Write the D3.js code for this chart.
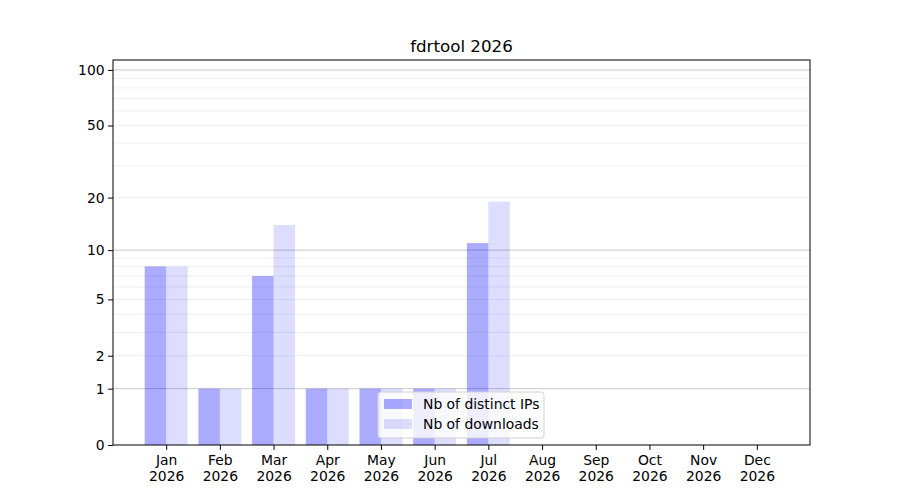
<!DOCTYPE html>
<html>
<head>
    <meta charset="utf-8">
    <style>
        body {
            margin: 0;
            background: white;
        }
        svg {
            font-family: 'DejaVu Sans', sans-serif;
        }
        .tick text {
            font-family: 'DejaVu Sans', sans-serif;
            font-size: 13.9px;
            fill: #000;
        }
        .tick line {
            stroke: #000;
        }
        .domain {
            display: none;
        }
        .title {
            font-size: 16.7px;
        }
        .legend text {
            font-size: 13.9px;
        }
    </style>
</head>
<body>
    <svg width="900" height="500"></svg>

<script src="https://cdn.jsdelivr.net/npm/d3@7"></script>
<script>
    let months = ["Jan", "Feb", "Mar", "Apr", "May", "Jun", "Jul", "Aug", "Sep", "Oct", "Nov", "Dec"]
    let year = "2026"
    let distinctIps = [8, 1, 7, 1, 1, 1, 11, 0, 0, 0, 0, 0]
    let downloads = [8, 1, 14, 1, 1, 1, 19, 0, 0, 0, 0, 0]
    let yTicks = [0, 1, 2, 5, 10, 20, 50, 100]
    let majorGrid = [1, 10, 100]
    let minorGrid = [2, 3, 4, 5, 6, 7, 8, 9, 20, 30, 40, 50, 60, 70, 80, 90]

    let margin = { top: 60, right: 90, bottom: 55, left: 113 }
    let width = 900
    let height = 500

    let svg = d3.select("svg")

    let x = d3.scaleLinear()
        .domain([-0.99, 11.99])
        .range([margin.left, width - margin.right])

    // log(1 + v) style y scale
    let y = d3.scaleSymlog()
        .constant(1)
        .domain([0, 113.2])
        .range([height - margin.bottom, margin.top])

    let barW = 0.4

    // grid
    let grid = svg.append("g")
    grid.selectAll(".minor")
        .data(minorGrid)
        .join("line")
        .attr("x1", margin.left)
        .attr("x2", width - margin.right)
        .attr("y1", d => y(d))
        .attr("y2", d => y(d))
        .attr("stroke", "#ebebeb")
        .attr("stroke-width", 0.8)
    grid.selectAll(".major")
        .data(majorGrid)
        .join("line")
        .attr("x1", margin.left)
        .attr("x2", width - margin.right)
        .attr("y1", d => y(d))
        .attr("y2", d => y(d))
        .attr("stroke", "#c8c8c8")
        .attr("stroke-width", 1)

    // bars
    svg.append("g")
        .selectAll("rect")
        .data(distinctIps)
        .join("rect")
        .attr("x", (d, i) => x(i - barW))
        .attr("width", (d, i) => x(i) - x(i - barW))
        .attr("y", d => y(d))
        .attr("height", d => y(0) - y(d))
        .attr("fill", "blue")
        .attr("fill-opacity", 0.33)

    svg.append("g")
        .selectAll("rect")
        .data(downloads)
        .join("rect")
        .attr("x", (d, i) => x(i))
        .attr("width", (d, i) => x(i + barW) - x(i))
        .attr("y", d => y(d))
        .attr("height", d => y(0) - y(d))
        .attr("fill", "blue")
        .attr("fill-opacity", 0.133)

    // axes
    let xAxis = svg.append("g")
        .attr("transform", `translate(0,${height - margin.bottom})`)
        .call(d3.axisBottom(x)
            .tickValues(d3.range(months.length))
            .tickSize(4.9)
            .tickPadding(4.5)
            .tickFormat(""))
    xAxis.selectAll(".tick text")
        .each(function (d) {
            let t = d3.select(this)
            t.append("tspan").attr("x", 0).attr("dy", "0.76em").text(months[d])
            t.append("tspan").attr("x", 0).attr("dy", "1.17em").text(year)
        })

    svg.append("g")
        .attr("transform", `translate(${margin.left},0)`)
        .call(d3.axisLeft(y)
            .tickValues(yTicks)
            .tickSize(4.9)
            .tickPadding(3.5)
            .tickFormat(d3.format("d")))

    // frame
    svg.append("rect")
        .attr("x", margin.left)
        .attr("y", margin.top)
        .attr("width", width - margin.right - margin.left)
        .attr("height", height - margin.bottom - margin.top)
        .attr("fill", "none")
        .attr("stroke", "#000")
        .attr("stroke-width", 1)

    svg.append("text")
        .attr("class", "title")
        .attr("x", (margin.left + width - margin.right) / 2)
        .attr("y", margin.top - 8)
        .attr("text-anchor", "middle")
        .text("fdrtool " + year)

    // legend
    let legendItems = [
        { label: "Nb of distinct IPs", opacity: 0.33 },
        { label: "Nb of downloads", opacity: 0.133 }
    ]
    let legend = svg.append("g")
        .attr("class", "legend")
        .attr("transform", "translate(378,392)")
    legend.append("rect")
        .attr("width", 166)
        .attr("height", 46)
        .attr("rx", 3)
        .attr("fill", "white")
        .attr("fill-opacity", 0.8)
        .attr("stroke", "#d0d0d0")
    let rows = legend.selectAll(".row")
        .data(legendItems)
        .join("g")
        .attr("transform", (d, i) => `translate(6,${7 + i * 20})`)
    rows.append("rect")
        .attr("width", 28)
        .attr("height", 10)
        .attr("fill", "blue")
        .attr("fill-opacity", d => d.opacity)
    rows.append("text")
        .attr("x", 39)
        .attr("y", 5)
        .attr("dy", "0.35em")
        .text(d => d.label)
</script>
</body>
</html>
